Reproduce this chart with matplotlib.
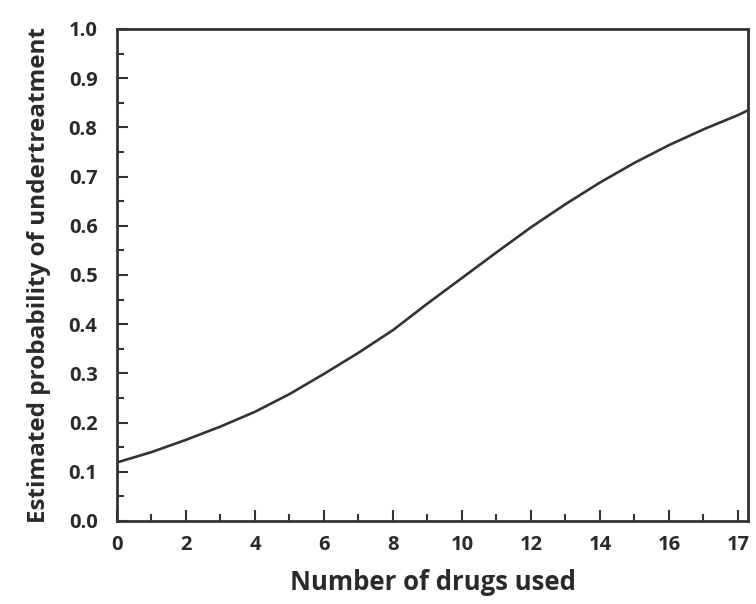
import numpy as np
import matplotlib
matplotlib.use("Agg")
import matplotlib.pyplot as plt
from matplotlib.ticker import MultipleLocator

plt.rcParams['font.family'] = ['Open Sans', 'DejaVu Sans']

# values (the last tick is labelled 17 but sits where 18 would be)
drugs = [0, 1, 2, 3, 4, 5, 6, 7, 8, 9, 10, 11, 12, 13, 14, 15, 16, 17, 18, 18.3]
prob = [0.119, 0.140, 0.165, 0.192, 0.222, 0.258, 0.299, 0.342, 0.388, 0.442,
        0.494, 0.546, 0.597, 0.644, 0.688, 0.728, 0.764, 0.796, 0.825, 0.835]
xtick_pos = [0, 2, 4, 6, 8, 10, 12, 14, 16, 18]
xtick_lab = ['0', '2', '4', '6', '8', '10', '12', '14', '16', '17']
ytick_pos = [0.0, 0.1, 0.2, 0.3, 0.4, 0.5, 0.6, 0.7, 0.8, 0.9, 1.0]

dark = '#333333'
txt = '#2a2a2a'

fig = plt.figure(figsize=(7.56, 6.04), dpi=100)
ax = fig.add_axes([117 / 756, 83 / 604, 631 / 756, 492 / 604])

ax.plot(drugs, prob, color=dark, lw=1.9, solid_joinstyle='round')

ax.set_xlim(0, 18.29)
ax.set_ylim(0, 1.0)
ax.set_xticks(xtick_pos)
ax.set_xticklabels(xtick_lab)
ax.set_yticks(ytick_pos)
ax.set_yticklabels([f'{v:.1f}' for v in ytick_pos])
ax.xaxis.set_minor_locator(MultipleLocator(1))
ax.yaxis.set_minor_locator(MultipleLocator(0.05))

ax.tick_params(which='both', direction='in', colors=dark, width=1.5,
               labelsize=14.5, labelcolor=txt)
ax.tick_params(which='major', length=8)
ax.tick_params(which='minor', length=5)
ax.tick_params(axis='y', pad=14)
ax.tick_params(axis='x', pad=10)
for lab in ax.get_xticklabels() + ax.get_yticklabels():
    lab.set_fontweight('bold')

for s in ax.spines.values():
    s.set_color(dark)
    s.set_linewidth(2)

ax.set_xlabel('Number of drugs used', fontsize=18.5, fontweight='bold',
              color=txt, labelpad=10)
ax.set_ylabel('Estimated probability of undertreatment', fontsize=17.5,
              fontweight='bold', color=txt, labelpad=13)

fig.savefig('out.png', dpi=100)
